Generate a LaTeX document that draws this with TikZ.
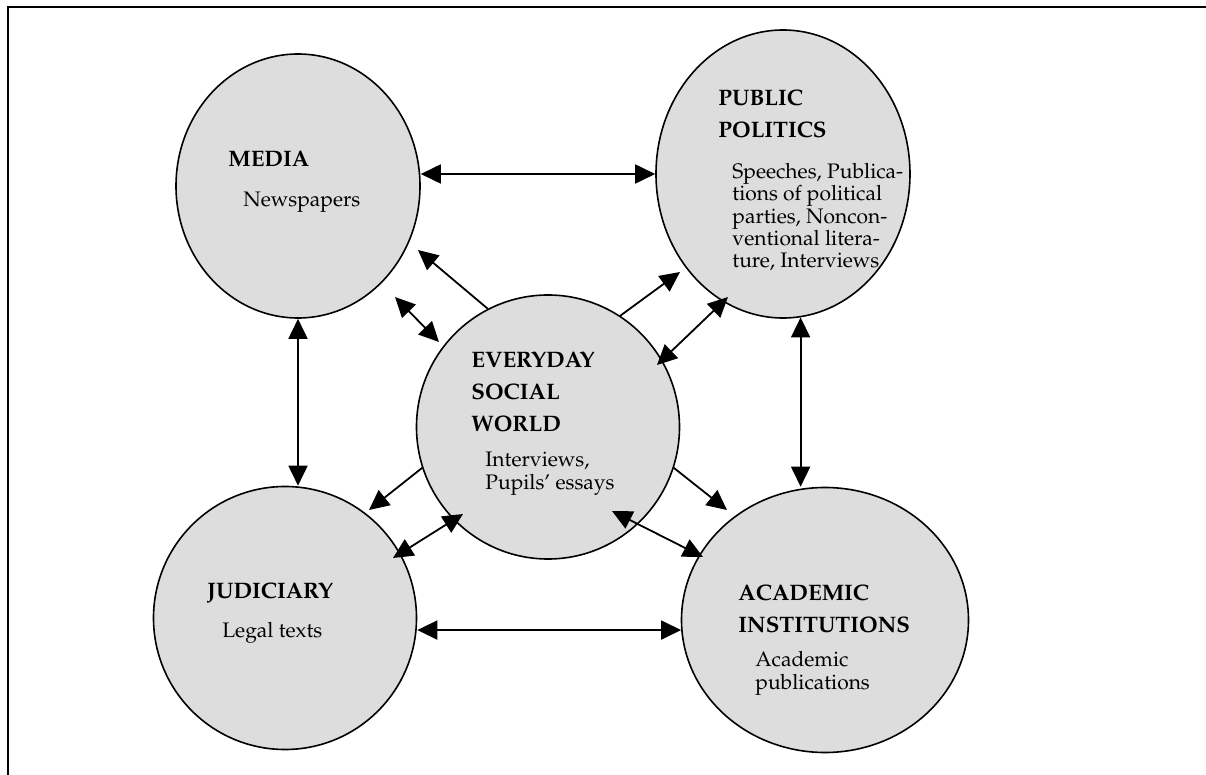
\documentclass[tikz,border=0pt]{standalone}
\usepackage[T1]{fontenc}
\usepackage{mathpazo}
\usetikzlibrary{arrows.meta}
\usetikzlibrary{shapes.geometric}
\definecolor{FieldGray}{HTML}{DDDDDD}
\tikzset{
  field/.style={ellipse, draw, line width=0.8pt, fill=FieldGray, inner sep=0pt},
  heading/.style={anchor=base west, align=left, inner sep=0pt,
    font=\fontsize{11.2}{16}\selectfont\bfseries},
  detail/.style={anchor=base west, align=left, inner sep=0pt,
    font=\fontsize{10.5}{11.2}\selectfont},
  oneway/.style={line width=0.9pt, -{Triangle[length=10pt,width=9.5pt]}},
  twoway/.style={line width=0.9pt,
    {Triangle[length=10pt,width=9.5pt]}-{Triangle[length=10pt,width=9.5pt]}}
}

\begin{document}
\begin{tikzpicture}[x=0.5pt, y=-0.5pt]
  \useasboundingbox (0,0) rectangle (1206,775);
  \draw[line width=1pt] (8,775) -- (8,7) -- (1206,7);

  % the five fields
  \node[field, minimum width=122pt, minimum height=132pt] (media)    at (298,186) {};
  \node[field, minimum width=127pt, minimum height=144pt] (public)   at (783,174) {};
  \node[field, minimum width=131.5pt, minimum height=132pt] (everyday) at (548,427) {};
  \node[field, minimum width=131.5pt, minimum height=131.5pt] (judic) at (285,618) {};
  \node[field, minimum width=143.5pt, minimum height=132.5pt] (academic) at (825,620) {};

  % texts (placed at the baseline of their last line)
  \node[heading] (mediaT) at (228,167) {MEDIA};
  \node[detail]  (mediaB) at (243,207) {Newspapers};
  \node[heading] (publicT) at (718,138) {PUBLIC\\POLITICS};
  \node[detail]  (publicB) at (732,268) {Speeches, Publica-\\tions of political\\parties, Noncon-\\ventional litera-\\ture, Interviews};
  \node[heading] (everydayT) at (471,431) {EVERYDAY\\SOCIAL\\WORLD};
  \node[detail]  (everydayB) at (485,489) {Interviews,\\Pupils' essays};
  \node[heading] (judicT) at (207,598) {JUDICIARY};
  \node[detail]  (judicB) at (222,637) {Legal texts};
  \node[heading] (academicT) at (738,632) {ACADEMIC\\INSTITUTIONS};
  \node[detail]  (academicB) at (755,689) {Academic\\publications};

  % loose arrow ends
  \coordinate (mediaTip)    at (418,250);
  \coordinate (publicTip)   at (680,272);
  \coordinate (judicTip)    at (369,510);
  \coordinate (academicTip) at (727,510);
  \coordinate (mA) at (395,297);  \coordinate (mB) at (439,342);
  \coordinate (pA) at (657,365);  \coordinate (pB) at (728,297);
  \coordinate (jA) at (393,558);  \coordinate (jB) at (463,514);
  \coordinate (aA) at (612,511);  \coordinate (aB) at (703,557);

  % outer ring
  \draw[twoway] (media.east |- public.west) -- (public.west);
  \draw[twoway] (media.south) -- (media.south |- judic.north);
  \draw[twoway] (public.-83) -- (public.-83 |- academic.north);
  \draw[twoway] (judic.east |- academic.184) -- (academic.184);

  % from the centre
  \draw[oneway] (everyday.117) -- (mediaTip);
  \draw[oneway] (everyday.57)  -- (publicTip);
  \draw[oneway] (everyday.198) -- (judicTip);
  \draw[oneway] (everyday.-18) -- (academicTip);
  \draw[twoway] (mA) -- (mB);
  \draw[twoway] (pA) -- (pB);
  \draw[twoway] (jA) -- (jB);
  \draw[twoway] (aA) -- (aB);
\end{tikzpicture}
\end{document}
